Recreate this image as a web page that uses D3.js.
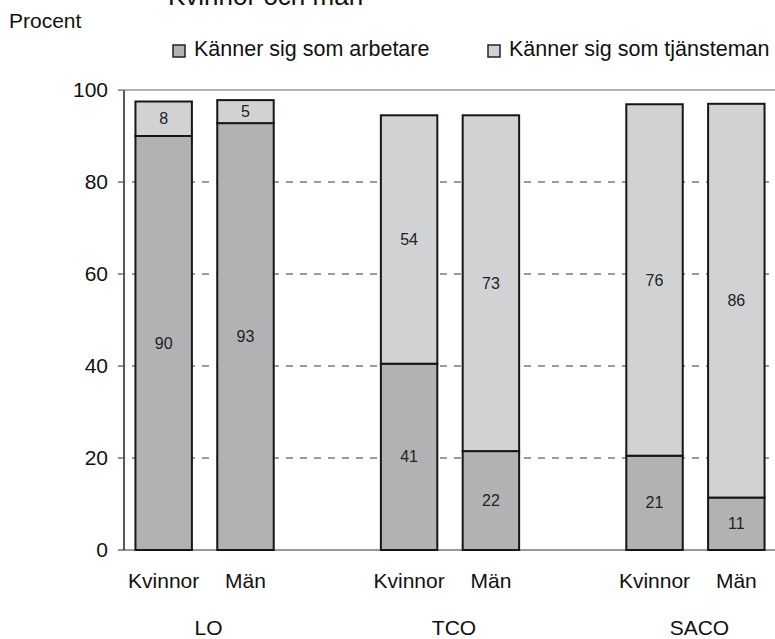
<!DOCTYPE html>
<html><head><meta charset="utf-8">
<script src="https://cdn.jsdelivr.net/npm/d3@7"></script>
<style>
body{margin:0;background:#fff;}
svg text{font-family:"Liberation Sans",Arial,sans-serif;}
</style></head>
<body>
<svg id="c" width="775" height="639"></svg>
<script>
const title = "Kvinnor och män";
const yLabel = "Procent";
const groups = ["LO", "TCO", "SACO"];
const genders = ["Kvinnor", "Män"];
const seriesNames = ["Känner sig som arbetare", "Känner sig som tjänsteman"];
// order: LO K, LO M, TCO K, TCO M, SACO K, SACO M
const arbetare   = [90.0, 92.8, 40.5, 21.5, 20.5, 11.4];
const tjansteman = [7.5, 5.0, 54.0, 73.0, 76.4, 85.6];
const yTicks = [0, 20, 40, 60, 80, 100];

const colors = ["#b2b2b4", "#d1d2d4"];
const svg = d3.select("#c");

const rows = [];
groups.forEach((g, gi) => genders.forEach((s, si) => {
  const i = gi * 2 + si;
  rows.push({group: g, gender: s, key: g + "|" + s, vals: [arbetare[i], tjansteman[i]]});
}));
const slots = [];
groups.forEach((g, gi) => {
  genders.forEach(s => slots.push(g + "|" + s));
  if (gi < groups.length - 1) slots.push("gap" + gi);
});

const x = d3.scaleBand().domain(slots).range([124, 776]).paddingInner(0.31).paddingOuter(0.14);
const y = d3.scaleLinear().domain([0, 100]).range([550, 90]);

// gridlines
const gl = svg.append("g");
yTicks.forEach(t => {
  const line = gl.append("line").attr("x1", 118).attr("x2", 776)
    .attr("y1", y(t)).attr("y2", y(t));
  if (t === 0) line.attr("stroke", "#9a9a9a").attr("stroke-width", 2);
  else if (t === 100) line.attr("stroke", "#9a9a9a").attr("stroke-width", 1.5);
  else line.attr("stroke", "#7a7a7a").attr("stroke-width", 1.3).attr("stroke-dasharray", "7,7");
});

// y axis
const yAxis = svg.append("g").attr("transform", "translate(124,0)")
  .call(d3.axisLeft(y).tickValues(yTicks).tickSize(6).tickPadding(10));
yAxis.select(".domain").attr("stroke", "#222").attr("stroke-width", 1.5)
  .attr("d", `M0,${y(100)}V${y(0)}`);
yAxis.selectAll(".tick line").attr("stroke", "#888");
yAxis.selectAll(".tick text").attr("font-size", 21).attr("fill", "#111")
  .attr("font-family", '"Liberation Sans",Arial,sans-serif');

// bars
rows.forEach(r => {
  let base = 0;
  r.vals.forEach((v, k) => {
    const y0 = y(base), y1 = y(base + v);
    svg.append("rect").attr("x", x(r.key)).attr("width", x.bandwidth())
      .attr("y", y1).attr("height", y0 - y1)
      .attr("fill", colors[k]).attr("stroke", "#161616").attr("stroke-width", 2);
    svg.append("text").attr("x", x(r.key) + x.bandwidth() / 2).attr("y", (y0 + y1) / 2)
      .attr("dy", "0.35em").attr("text-anchor", "middle").attr("font-size", 16)
      .attr("fill", "#222").text(Math.round(v));
    base += v;
  });
});

// category labels
rows.forEach(r => {
  svg.append("text").attr("x", x(r.key) + x.bandwidth() / 2).attr("y", 588)
    .attr("text-anchor", "middle").attr("font-size", 21).attr("fill", "#111").text(r.gender);
});
groups.forEach(g => {
  const cx = (x(g + "|" + genders[0]) + x(g + "|" + genders[1]) + x.bandwidth()) / 2;
  svg.append("text").attr("x", cx + 4).attr("y", 635)
    .attr("text-anchor", "middle").attr("font-size", 21).attr("fill", "#111").text(g);
});

// title and y label
svg.append("text").attr("x", 168).attr("y", 5).attr("font-size", 26).attr("fill", "#111").text(title);
svg.append("text").attr("x", 9).attr("y", 28).attr("font-size", 21).attr("fill", "#111").text(yLabel);

// legend
const legX = [173, 488];
seriesNames.forEach((n, k) => {
  svg.append("rect").attr("x", legX[k]).attr("y", 45).attr("width", 12).attr("height", 12)
    .attr("fill", colors[k]).attr("stroke", "#222").attr("stroke-width", 1.5);
  svg.append("text").attr("x", legX[k] + 21).attr("y", 56).attr("font-size", 21.5)
    .attr("fill", "#111").text(n);
});
</script>
</body></html>
